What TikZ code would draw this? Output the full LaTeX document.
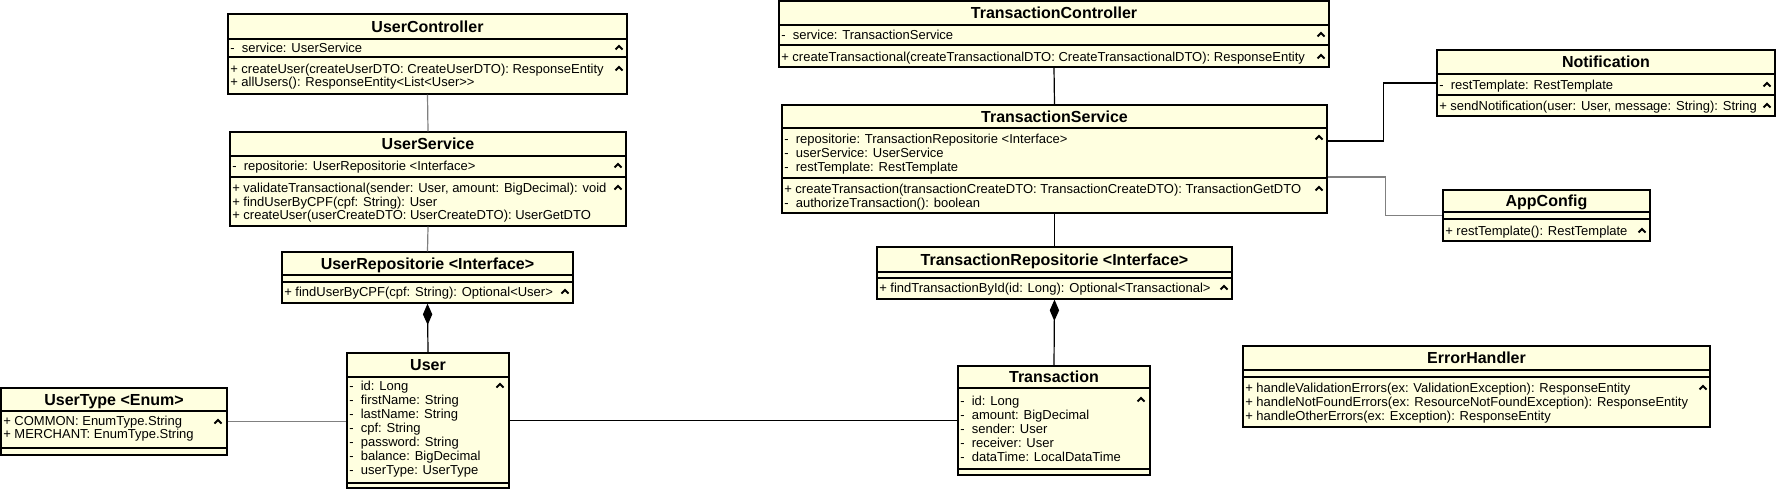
\documentclass[tikz,border=0pt]{standalone}
\usepackage{fontspec}
\setmainfont{Liberation Sans}
\usetikzlibrary{arrows.meta}
\usetikzlibrary{fit}

\begin{document}
\begin{tikzpicture}[x=0.75pt, y=-0.75pt,
    classbox/.style={draw=black, fill=classfill, line width=1pt, inner sep=0pt},
    classtitle/.style={anchor=base, inner sep=0pt, font=\bfseries\fontsize{12pt}{14pt}\selectfont},
    members/.style={anchor=base west, inner sep=0pt, align=left, font=\fontsize{9.75pt}{10.5pt}\selectfont},
    caret/.style={line width=1.5pt, line join=miter},
    link/.style={line width=0.9pt, draw=linkgray},
    assoc/.style={line width=0.9pt, draw=black},
    composition/.style={assoc, -{Diamond[length=16pt, width=7pt]}}]
    \definecolor{classfill}{HTML}{FFFFE0}
    \definecolor{linkgray}{HTML}{808080}
    \useasboundingbox (0,0) rectangle (1779,497);
    % Klassen: Name / Rahmen / Trennlinien / Titel
    \foreach \name/\xa/\ya/\xb/\yb/\ta/\tb/\title in
    {
      uctrl/228/14/627/94/39/57/UserController,
      usvc/230/132/626/226/156/177/UserService,
      urepo/282/252/573/303/275/282/UserRepositorie <Interface>,
      user/347/353/509/488/377/483/User,
      utype/1/388/227/455/411/448/UserType <Enum>,
      tctrl/779/1/1329/67/25/45/TransactionController,
      tsvc/782/105/1327/213/128/178/TransactionService,
      trepo/877/247/1232/299/272/278/TransactionRepositorie <Interface>,
      trans/958/366/1150/475/388/469/Transaction,
      notif/1437/50/1775/116/74/95/Notification,
      appcfg/1443/190/1650/241/212/219/AppConfig,
      errh/1243/346/1710/427/370/377/ErrorHandler
    }
    {
      \node[classbox, fit={(\xa,\ya) (\xb,\yb)}] (\name) {};
      \draw[line width=0.8pt] (\xa,\ta) -- (\xb,\ta);  %Titel-Trennlinie
      \draw[line width=0.8pt] (\xa,\tb) -- (\xb,\tb);  %Attribut-Trennlinie
      \node[classtitle] (\name-title) at ({(\xa+\xb)/2},{(\ya+\ta)/2+5.7}) {\title};
    };
    % Attribute und Methoden (mehrzeilig: Grundlinie der letzten Zeile)
    \node[members] (uctrl-attr) at (230,52.5) {-\ \ service: UserService};
    \node[members, font=\fontsize{9.75pt}{9.75pt}\selectfont] (uctrl-meth) at (230,86.5) {+ createUser(createUserDTO: CreateUserDTO): ResponseEntity\\+ allUsers(): ResponseEntity<List<User>{}>};
    \node[members] (usvc-attr) at (232,170.5) {-\ \ repositorie: UserRepositorie <Interface>};
    \node[members, font=\fontsize{9.75pt}{10.1pt}\selectfont] (usvc-meth) at (232,219.5) {+ validateTransactional(sender: User, amount: BigDecimal): void\\+ findUserByCPF(cpf: String): User\\+ createUser(userCreateDTO: UserCreateDTO): UserGetDTO};
    \node[members] (urepo-meth) at (284,296.5) {+ findUserByCPF(cpf: String): Optional<User>};
    \node[members] (user-attr) at (349,474.5) {-\ \ id: Long\\-\ \ firstName: String\\-\ \ lastName: String\\-\ \ cpf: String\\-\ \ password: String\\-\ \ balance: BigDecimal\\-\ \ userType: UserType};
    \node[members, font=\fontsize{9.75pt}{9pt}\selectfont] (utype-attr) at (3,438.5) {+ COMMON: EnumType.String\\+ MERCHANT: EnumType.String};
    \node[members] (tctrl-attr) at (781,39.5) {-\ \ service: TransactionService};
    \node[members] (tctrl-meth) at (781,61.5) {+ createTransactional(createTransactionalDTO: CreateTransactionalDTO): ResponseEntity};
    \node[members] (tsvc-attr) at (784,171.5) {-\ \ repositorie: TransactionRepositorie <Interface>\\-\ \ userService: UserService\\-\ \ restTemplate: RestTemplate};
    \node[members] (tsvc-meth) at (784,207.5) {+ createTransaction(transactionCreateDTO: TransactionCreateDTO): TransactionGetDTO\\-\ \ authorizeTransaction(): boolean};
    \node[members] (trepo-meth) at (879,292.5) {+ findTransactionById(id: Long): Optional<Transactional>};
    \node[members] (trans-attr) at (960,461.5) {-\ \ id: Long\\-\ \ amount: BigDecimal\\-\ \ sender: User\\-\ \ receiver: User\\-\ \ dataTime: LocalDataTime};
    \node[members] (notif-attr) at (1439,89.5) {-\ \ restTemplate: RestTemplate};
    \node[members] (notif-meth) at (1439,110.5) {+ sendNotification(user: User, message: String): String};
    \node[members] (appcfg-meth) at (1445,235.5) {+ restTemplate(): RestTemplate};
    \node[members] (errh-meth) at (1245,420.5) {+ handleValidationErrors(ex: ValidationException): ResponseEntity\\+ handleNotFoundErrors(ex: ResourceNotFoundException): ResponseEntity\\+ handleOtherErrors(ex: Exception): ResponseEntity};
    % Einklapp-Symbole
    \foreach \x/\y in {619/48, 619/69, 618/166, 618/188, 565/292, 500/386, 218/422,
      1321/35, 1321/57, 1319/138, 1319/189, 1224/288, 1141/400, 1767/85, 1767/106,
      1642/231, 1703/388}
    {
      \draw[caret] (\x-3.5,\y+1.5) -- (\x,\y-2) -- (\x+3.5,\y+1.5);
    };
    % Verbindungen
    \draw[link] (uctrl.south) -- (usvc.north);
    \draw[link] (usvc.south) -- (urepo.north);
    \draw[composition] (user.north) -- (urepo.south);
    \draw[link] (utype.east) -- (utype.east -| user.west);
    \draw[assoc] (user.east) -- (user.east -| trans.west);
    \draw[assoc] (tctrl.south) -- (tsvc.north);
    \draw[assoc] (tsvc.south) -- (trepo.north);
    \draw[composition] (trans.north) -- (trepo.south);
    \draw[assoc] ([yshift=13.5pt]tsvc.east) -- ++(56,0) |- (notif.west);
    \draw[link] ([yshift=-13.5pt]tsvc.east) -- ++(58,0) |- (appcfg.west);
\end{tikzpicture}
\end{document}
